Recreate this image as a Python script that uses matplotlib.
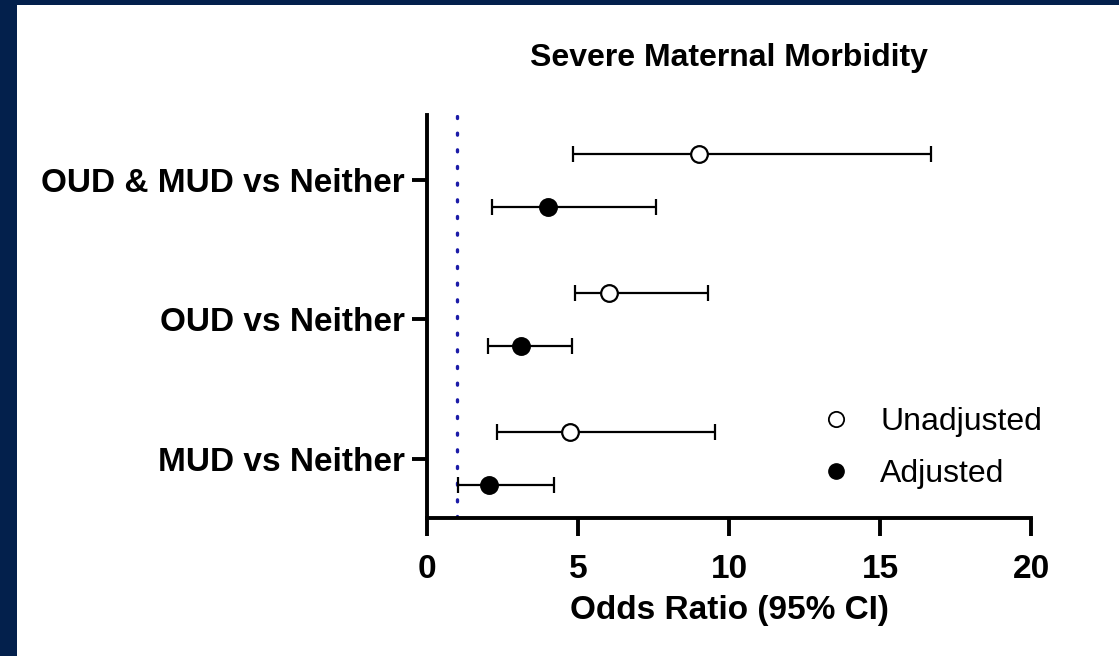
"""
Forest plot of odds ratios for severe maternal morbidity
"""

import matplotlib.pyplot as plt
from matplotlib.lines import Line2D
from matplotlib.patches import Rectangle

groups = ['MUD vs Neither', 'OUD vs Neither', 'OUD & MUD vs Neither']

# odds ratio, lower and upper 95% CI per group (same order as groups)
or_unadj = [4.73, 6.03, 9.0]
lo_unadj = [2.32, 4.9, 4.83]
hi_unadj = [9.54, 9.3, 16.7]

or_adj = [2.05, 3.1, 4.0]
lo_adj = [1.03, 2.02, 2.15]
hi_adj = [4.2, 4.8, 7.58]

ref_or = 1.0
xticks = [0, 5, 10, 15, 20]

navy = '#03204c'
font = 'Liberation Sans'


def main():
    W, H = 1119, 656
    fig = plt.figure(figsize=(W / 100, H / 100), dpi=100)
    fig.patch.set_facecolor(navy)
    # white panel inside the navy frame
    fig.patches.append(Rectangle((17 / W, 0), 1 - 17 / W, 1 - 5 / H,
                                 transform=fig.transFigure, fc='white',
                                 ec='none', zorder=-10))

    ax = fig.add_axes([427 / W, 1 - 518 / H, (1031 - 427) / W, (518 - 115) / H])
    ax.set_facecolor('none')

    ypos = [1, 2, 3]
    off = 0.19
    y_un = [y + off for y in ypos]
    y_ad = [y - off for y in ypos]

    err_kw = dict(fmt='none', ecolor='black', elinewidth=1.6, capsize=6,
                  capthick=1.6, zorder=2)
    ax.errorbar(or_unadj, y_un,
                xerr=[[o - l for o, l in zip(or_unadj, lo_unadj)],
                      [h - o for o, h in zip(or_unadj, hi_unadj)]], **err_kw)
    ax.errorbar(or_adj, y_ad,
                xerr=[[o - l for o, l in zip(or_adj, lo_adj)],
                      [h - o for o, h in zip(or_adj, hi_adj)]], **err_kw)
    ax.plot(or_unadj, y_un, 'o', ms=12, mfc='white', mec='black', mew=1.6,
            ls='none', zorder=3)
    ax.plot(or_adj, y_ad, 'o', ms=12, mfc='black', mec='black', mew=1.6,
            ls='none', zorder=3)

    ax.axvline(ref_or, color='#1c1ca8', lw=2.4, ls=(0, (0.6, 4.4)),
               dash_capstyle='round', zorder=1)

    ax.set_xlim(0, 20)
    ax.set_ylim(0.577, 3.466)
    ax.set_xticks(xticks)
    ax.set_xticklabels([str(t) for t in xticks], fontfamily=font,
                       fontweight='bold', fontsize=24)
    ax.set_yticks(ypos)
    ax.set_yticklabels(groups, fontfamily=font, fontweight='bold', fontsize=24)

    for s in ['top', 'right']:
        ax.spines[s].set_visible(False)
    for s in ['left', 'bottom']:
        ax.spines[s].set_linewidth(2.8)
        ax.spines[s].set_capstyle('projecting')
    ax.tick_params(axis='x', length=13, width=2.8, pad=13)
    ax.tick_params(axis='y', length=11, width=2.8, pad=5)

    ax.set_xlabel('Odds Ratio (95% CI)', fontfamily=font, fontweight='bold',
                  fontsize=24, labelpad=7)
    fig.text(729 / W, 1 - 58 / H, 'Severe Maternal Morbidity',
             fontfamily=font, fontweight='bold', fontsize=23,
             ha='center', va='center')

    handles = [
        Line2D([], [], marker='o', ls='none', ms=11, mfc='white',
               mec='black', mew=1.3),
        Line2D([], [], marker='o', ls='none', ms=11, mfc='black',
               mec='black'),
    ]
    ax.legend(handles, ['Unadjusted', 'Adjusted'], frameon=False,
              loc='upper left', bbox_to_anchor=(794 / W, 1 - 391 / H),
              bbox_transform=fig.transFigure, prop={'family': font, 'size': 23},
              handletextpad=0.6, labelspacing=0.7, borderpad=0,
              handlelength=1.6)

    fig.savefig('out.png', dpi=100, facecolor=fig.get_facecolor())


if __name__ == '__main__':
    main()
